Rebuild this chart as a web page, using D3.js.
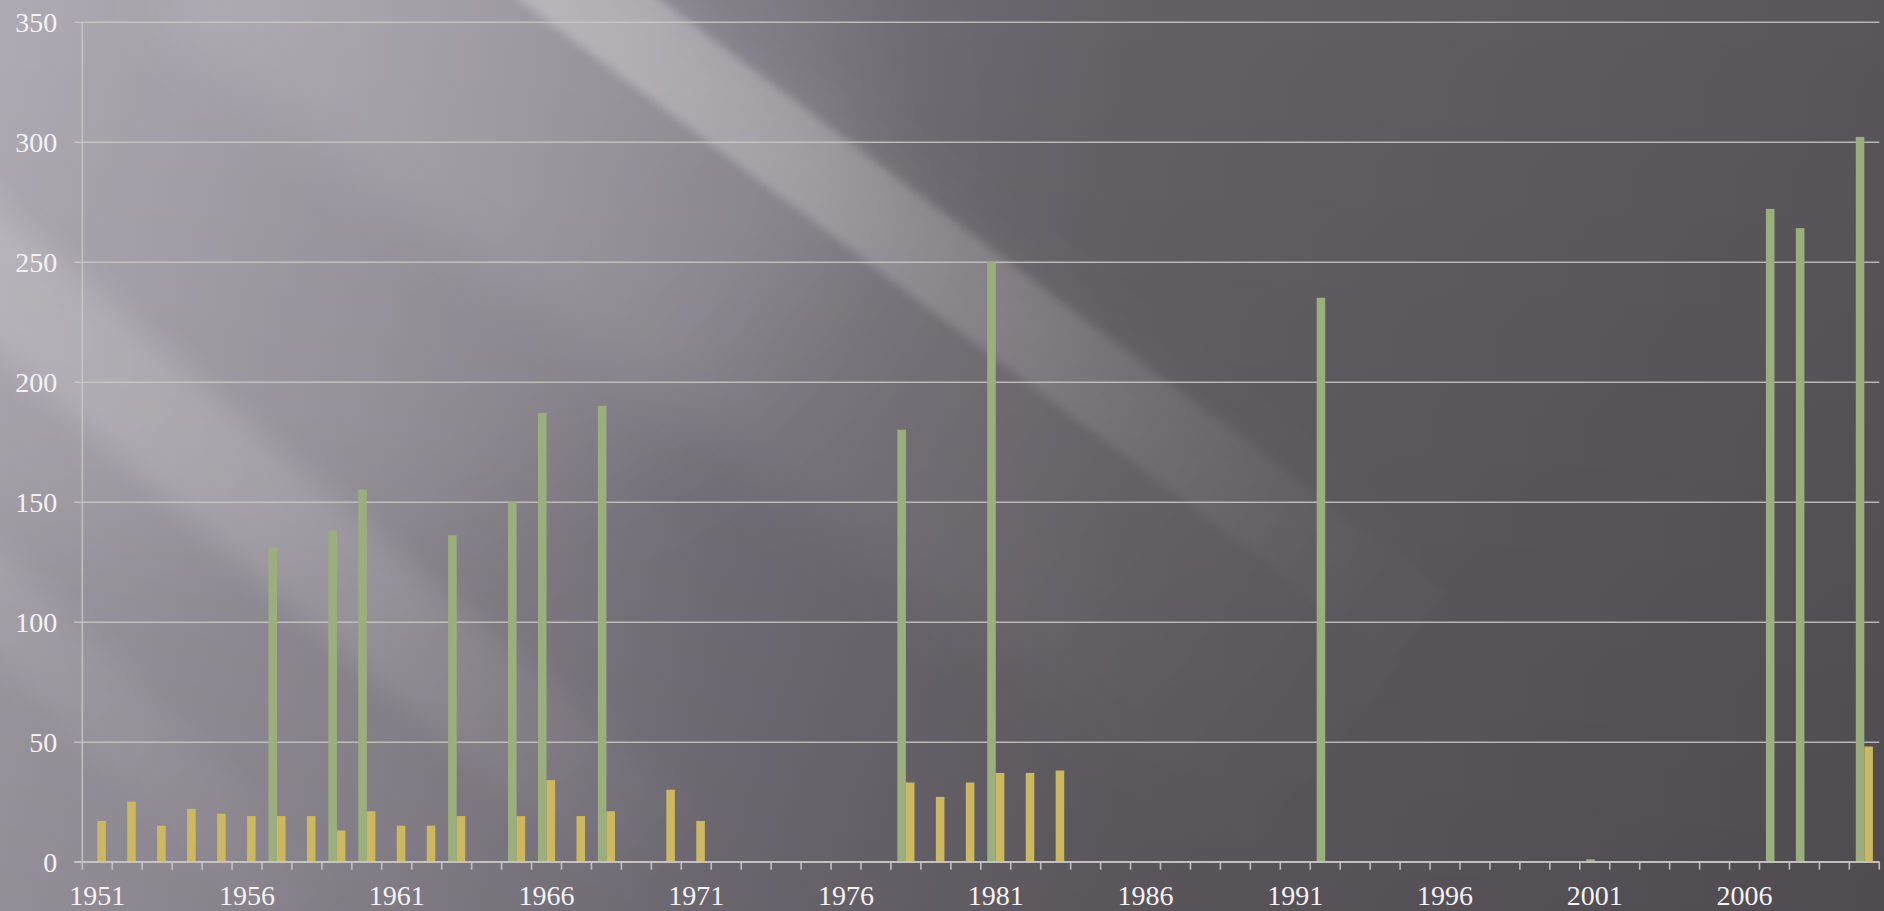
<!DOCTYPE html>
<html>
<head>
<meta charset="utf-8">
<script src="https://cdn.jsdelivr.net/npm/d3@7"></script>
<style>
    html, body { margin: 0; padding: 0; background: #5a555b; overflow: hidden; }
    svg { display: block; }
    .tick text, .x-label { font-family: "Liberation Serif", "DejaVu Serif", serif; font-size: 28px; fill: #f4f2f4; }
</style>
</head>
<body>
<div class="panel"></div>
<script>

// Data ////////////////////////////////////

const years = d3.range(1951, 2011).map(String);

// green series (values per year, 0 = no bar)
const seriesA = [
    0, 0, 0, 0, 0, 0, 131, 0, 138, 155,
    0, 0, 136, 0, 150, 187, 0, 190, 0, 0,
    0, 0, 0, 0, 0, 0, 0, 180, 0, 0,
    250, 0, 0, 0, 0, 0, 0, 0, 0, 0,
    0, 235, 0, 0, 0, 0, 0, 0, 0, 0,
    1, 0, 0, 0, 0, 0, 272, 264, 0, 302
];

// yellow series
const seriesB = [
    17, 25, 15, 22, 20, 19, 19, 19, 13, 21,
    15, 15, 19, 0, 19, 34, 19, 21, 0, 30,
    17, 0, 0, 0, 0, 0, 0, 33, 27, 33,
    37, 37, 38, 0, 0, 0, 0, 0, 0, 0,
    0, 0, 0, 0, 0, 0, 0, 0, 0, 0,
    0, 0, 0, 0, 0, 0, 0, 0, 0, 48
];

const yTicks = [0, 50, 100, 150, 200, 250, 300, 350];
const xLabels = years.filter((d, i) => i % 5 === 0);

const colors = { a: "#9baf7e", b: "#cdb862", grid: "#c9c8c6" };

// Chart ////////////////////////////////////

const dim = { width: 1884, height: 911 };
const margin = { left: 82.3, right: 4.7, top: 21.7, bottom: 49.3 };
const plotW = dim.width - margin.left - margin.right;
const plotH = dim.height - margin.top - margin.bottom;

const svg = d3.select(".panel").append("svg")
    .attr("width", dim.width)
    .attr("height", dim.height);

// Background

const defs = svg.append("defs");

function gradient(id, x1, y1, x2, y2, stops) {
    defs.append("linearGradient")
        .attr("id", id)
        .attr("gradientUnits", "userSpaceOnUse")
        .attr("x1", x1).attr("y1", y1).attr("x2", x2).attr("y2", y2)
        .selectAll("stop")
        .data(stops)
        .join("stop")
        .attr("offset", d => d[0])
        .attr("stop-color", d => d[1])
        .attr("stop-opacity", d => d[2] === undefined ? 1 : d[2]);
}

function blur(id, s) {
    defs.append("filter").attr("id", id)
        .attr("x", "-30%").attr("y", "-30%").attr("width", "160%").attr("height", "160%")
        .append("feGaussianBlur").attr("stdDeviation", s);
}

gradient("bg-base", 0, 0, 1884, 0, [
    [0, "#a7a1ab"], [0.2, "#928c96"], [0.38, "#78727c"],
    [0.6, "#656066"], [1, "#5a555b"]
]);
gradient("bg-shade", 0, 0, 0, 911, [
    [0, "#000", 0], [1, "#000", 0.12]
]);
// fades along the length of each light ray (rotated frame)
gradient("fade-a", 0, 0, 1000, 0, [
    [0, "#fff", 0.26], [0.35, "#fff", 0.18], [0.65, "#fff", 0.08], [0.85, "#fff", 0.02], [1, "#fff", 0]
]);
gradient("fade-a2", 0, 0, 1000, 0, [
    [0, "#fff", 0.12], [0.5, "#fff", 0.06], [1, "#fff", 0]
]);
gradient("fade-b", 0, 0, 1250, 0, [
    [0, "#fff", 0.10], [0.3, "#fff", 0.16], [0.7, "#fff", 0.12], [1, "#fff", 0]
]);
gradient("fade-c", 0, 0, 500, 0, [
    [0, "#fff", 0.10], [1, "#fff", 0]
]);

blur("blur-xl", 60);
blur("blur-l", 30);
blur("blur-m", 14);
blur("blur-s", 4);

const bg = svg.append("g").attr("class", "background");

bg.append("rect")
    .attr("width", dim.width)
    .attr("height", dim.height)
    .attr("fill", "url(#bg-base)");

bg.append("rect")
    .attr("width", dim.width)
    .attr("height", dim.height)
    .attr("fill", "url(#bg-shade)");

bg.append("ellipse")
    .attr("cx", 220)
    .attr("cy", 120)
    .attr("rx", 650)
    .attr("ry", 420)
    .attr("fill", "#fff")
    .attr("fill-opacity", 0.09)
    .attr("filter", "url(#blur-xl)");

// light rays: [translate x, translate y, angle, width, gradient, blur]
const rays = [
    [661, 0, 37, 320, "fade-a2", "blur-l"],
    [661, 0, 37, 85, "fade-a", "blur-s"],
    [-239, 0, 41, 110, "fade-b", "blur-m"],
    [0, 548, 45, 80, "fade-c", "blur-m"]
];

bg.selectAll(".ray")
    .data(rays)
    .join("g")
    .attr("class", "ray")
    .attr("transform", d => `translate(${ d[0] }, ${ d[1] }) rotate(${ d[2] })`)
    .append("rect")
    .attr("x", -400)
    .attr("y", 0)
    .attr("width", 1800)
    .attr("height", d => d[3])
    .attr("fill", d => `url(#${ d[4] })`)
    .attr("filter", d => `url(#${ d[5] })`);

const chart = svg.append("g")
    .attr("transform", `translate(${ margin.left }, ${ margin.top })`);

// Scales

const x = d3.scaleBand()
    .domain(years)
    .range([0, plotW])
    .padding(0);

const inner = d3.scaleBand()
    .domain(["a", "b"])
    .range([0, x.bandwidth()])
    .paddingInner(0)
    .paddingOuter(0.75);

const y = d3.scaleLinear()
    .domain([0, 350])
    .range([plotH, 0]);

// Grid and y axis

const yAxis = chart.append("g")
    .attr("class", "y-axis")
    .call(d3.axisLeft(y)
        .tickValues(yTicks)
        .tickSizeInner(-plotW)
        .tickSizeOuter(0)
        .tickPadding(25));

yAxis.select(".domain").remove();
yAxis.selectAll(".tick line")
    .attr("x1", -8)
    .attr("stroke", colors.grid)
    .attr("stroke-width", 1.6)
    .attr("stroke-opacity", 0.85);
yAxis.selectAll(".tick text")
    .attr("dy", "0.34em")
    .attr("font-family", null)
    .attr("font-size", null);

chart.append("line")
    .attr("x1", 0).attr("x2", 0)
    .attr("y1", 0).attr("y2", plotH)
    .attr("stroke", colors.grid)
    .attr("stroke-width", 1.6)
    .attr("stroke-opacity", 0.85);

// Bars

const rows = years.map((yr, i) => ({ year: yr, a: seriesA[i], b: seriesB[i] }));

const groups = chart.append("g")
    .attr("class", "bars")
    .selectAll("g")
    .data(rows)
    .join("g")
    .attr("transform", d => `translate(${ x(d.year) }, 0)`);

groups.selectAll("rect")
    .data(d => ["a", "b"].map(k => ({ key: k, v: d[k] })).filter(e => e.v > 0))
    .join("rect")
    .attr("x", d => inner(d.key))
    .attr("width", inner.bandwidth())
    .attr("y", d => y(d.v))
    .attr("height", d => plotH - y(d.v))
    .attr("fill", d => colors[d.key]);

// X axis

const xAxis = chart.append("g")
    .attr("class", "x-axis")
    .attr("transform", `translate(0, ${ plotH })`);

xAxis.append("line")
    .attr("x1", -8).attr("x2", plotW)
    .attr("stroke", colors.grid)
    .attr("stroke-width", 1.6)
    .attr("stroke-opacity", 0.9);

xAxis.selectAll(".xtick")
    .data(years.concat(["end"]))
    .join("line")
    .attr("class", "xtick")
    .attr("x1", d => d === "end" ? plotW : x(d))
    .attr("x2", d => d === "end" ? plotW : x(d))
    .attr("y1", 0)
    .attr("y2", 8)
    .attr("stroke", colors.grid)
    .attr("stroke-width", 1.6)
    .attr("stroke-opacity", 0.9);

xAxis.selectAll(".x-label")
    .data(xLabels)
    .join("text")
    .attr("class", "x-label")
    .attr("x", d => x(d) + x.bandwidth() / 2)
    .attr("y", 43)
    .attr("text-anchor", "middle")
    .text(d => d);

</script>
</body>
</html>
